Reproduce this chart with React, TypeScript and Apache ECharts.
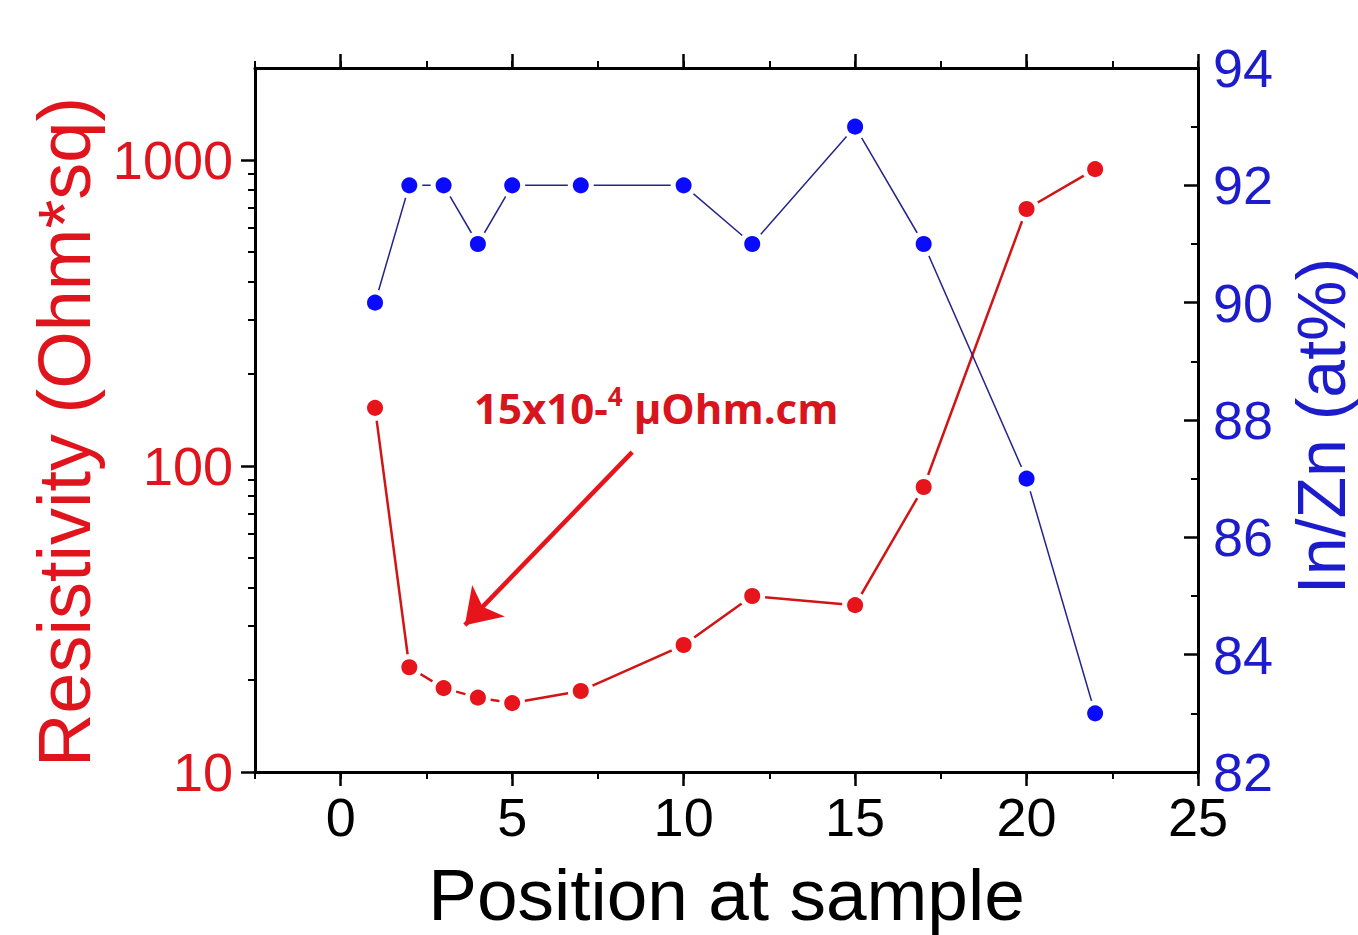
import React, { useEffect, useRef } from "react";
import * as echarts from "echarts";

const positions = [1, 2, 3, 4, 5, 7, 10, 12, 15, 17, 20, 22];
const resistivity = [155, 22, 18.8, 17.5, 16.8, 18.4, 26, 37.6, 35.1, 85.4, 692, 934];
const inZn = [90, 92, 92, 91, 92, 92, 92, 91, 93, 91, 87, 83];
const xMajorTicks = [0, 5, 10, 15, 20, 25];
const logMajorTicks = [10, 100, 1000];
const logMinorTicks = [20, 30, 40, 50, 60, 70, 80, 90, 200, 300, 400, 500, 600, 700, 800, 900];
const arrowFrom = [8.5, 111];
const arrowTo = [3.62, 30.2];

const FONT = "'Liberation Sans', Arial, sans-serif";
const RED = "#e0141c";
const BLUE = "#1c1ccc";
const BLACK = "#000";

export default function App() {
  const ref = useRef<HTMLDivElement>(null);
  useEffect(() => {
    document.body.style.margin = "0";
    if (!ref.current) return;
    const chart = echarts.init(ref.current, undefined, { renderer: "svg" });
    const axisLine = { show: true, onZero: false, lineStyle: { color: BLACK, width: 3 } };
    const noLine = { show: false, onZero: false };
    const baseX = {
      type: "value",
      min: -2.5,
      max: 25,
      splitLine: { show: false },
    };
    const option: any = {
      animation: false,
      backgroundColor: "#fff",
      grid: { left: 255, right: 160, top: 68, bottom: 163, containLabel: false, outerBoundsMode: "none" },
      textStyle: { fontFamily: FONT },
      xAxis: [
        {
          ...baseX,
          position: "bottom",
          axisLine,
          axisTick: { show: true, customValues: xMajorTicks, length: 14, lineStyle: { color: BLACK, width: 2.5 } },
          axisLabel: { show: true, customValues: xMajorTicks, fontSize: 54, color: BLACK, margin: 18, fontFamily: FONT },
          name: "Position at sample",
          nameLocation: "middle",
          nameGap: 86,
          nameTextStyle: { fontSize: 73, color: BLACK, fontFamily: FONT },
        },
        {
          ...baseX,
          position: "bottom",
          interval: 2.5,
          axisLine: noLine,
          axisTick: { show: true, length: 7, lineStyle: { color: BLACK, width: 2 } },
          axisLabel: { show: false },
        },
        {
          ...baseX,
          position: "top",
          axisLine,
          axisTick: { show: true, customValues: xMajorTicks, length: 14, lineStyle: { color: BLACK, width: 2.5 } },
          axisLabel: { show: false },
        },
        {
          ...baseX,
          position: "top",
          interval: 2.5,
          axisLine: noLine,
          axisTick: { show: true, length: 7, lineStyle: { color: BLACK, width: 2 } },
          axisLabel: { show: false },
        },
      ],
      yAxis: [
        {
          type: "log",
          logBase: 10,
          min: 10,
          max: 2000,
          position: "left",
          axisLine,
          splitLine: { show: false },
          axisTick: { show: true, customValues: logMajorTicks, length: 14, lineStyle: { color: BLACK, width: 2.5 } },
          axisLabel: {
            show: true,
            customValues: logMajorTicks,
            fontSize: 54,
            color: RED,
            margin: 22,
            fontFamily: FONT,
            formatter: (v: number) => String(Math.round(v)),
          },
          name: "Resistivity (Ohm*sq)",
          nameLocation: "middle",
          nameGap: 145,
          nameTextStyle: { fontSize: 74, color: RED, fontFamily: FONT, padding: [0, 24, 0, 0] },
        },
        {
          type: "log",
          logBase: 10,
          min: 10,
          max: 2000,
          position: "left",
          axisLine: noLine,
          splitLine: { show: false },
          axisTick: { show: true, customValues: logMinorTicks, length: 7, lineStyle: { color: BLACK, width: 2 } },
          axisLabel: { show: false },
        },
        {
          type: "value",
          min: 82,
          max: 94,
          interval: 2,
          position: "right",
          axisLine,
          splitLine: { show: false },
          axisTick: { show: true, inside: true, length: 14, lineStyle: { color: BLACK, width: 2.5 } },
          minorTick: { show: true, splitNumber: 2, length: 7, lineStyle: { color: BLACK, width: 2 } },
          minorSplitLine: { show: false },
          axisLabel: { show: true, fontSize: 54, color: BLUE, margin: 15, fontFamily: FONT },
          name: "In/Zn (at%)",
          nameLocation: "middle",
          nameGap: 90,
          nameRotate: 90,
          nameTextStyle: { fontSize: 68, lineHeight: 66, color: BLUE, fontFamily: FONT, padding: [0, 12, 0, 0] },
        },
      ],
      series: [
        {
          name: "Resistivity",
          type: "line",
          xAxisIndex: 0,
          yAxisIndex: 0,
          data: positions.map((p, i) => [p, resistivity[i]]),
          symbol: "circle",
          symbolSize: 21,
          itemStyle: { color: "#e8141c", borderColor: "#fff", borderWidth: 5 },
          lineStyle: { color: "#d21414", width: 2.5 },
          z: 3,
          markLine: {
            silent: true,
            symbol: ["none", "arrow"],
            symbolSize: 34,
            label: { show: false },
            lineStyle: { color: "#e8141c", width: 4.5, type: "solid" },
            data: [[{ coord: arrowFrom }, { coord: arrowTo }]],
          },
        },
        {
          name: "In/Zn",
          type: "line",
          xAxisIndex: 0,
          yAxisIndex: 2,
          data: positions.map((p, i) => [p, inZn[i]]),
          symbol: "circle",
          symbolSize: 21,
          itemStyle: { color: "#0a0aff", borderColor: "#fff", borderWidth: 5 },
          lineStyle: { color: "#24248c", width: 1.5 },
          z: 4,
        },
      ],
      graphic: [
        {
          type: "text",
          left: 474,
          top: 383,
          style: {
            text: "{a|15x10-}{s|4}{a| μOhm.cm}",
            rich: {
              a: { fontSize: 42, fontWeight: "bold", fill: "#d8141c", fontFamily: "'Open Sans', sans-serif", verticalAlign: "bottom" },
              s: { fontSize: 26, fontWeight: "bold", fill: "#d8141c", fontFamily: "'Open Sans', sans-serif", padding: [0, 0, 19, 0], verticalAlign: "bottom" },
            },
          },
        },
      ],
    };
    chart.setOption(option);
    return () => chart.dispose();
  }, []);
  return <div ref={ref} style={{ width: 1358, height: 935 }} />;
}
